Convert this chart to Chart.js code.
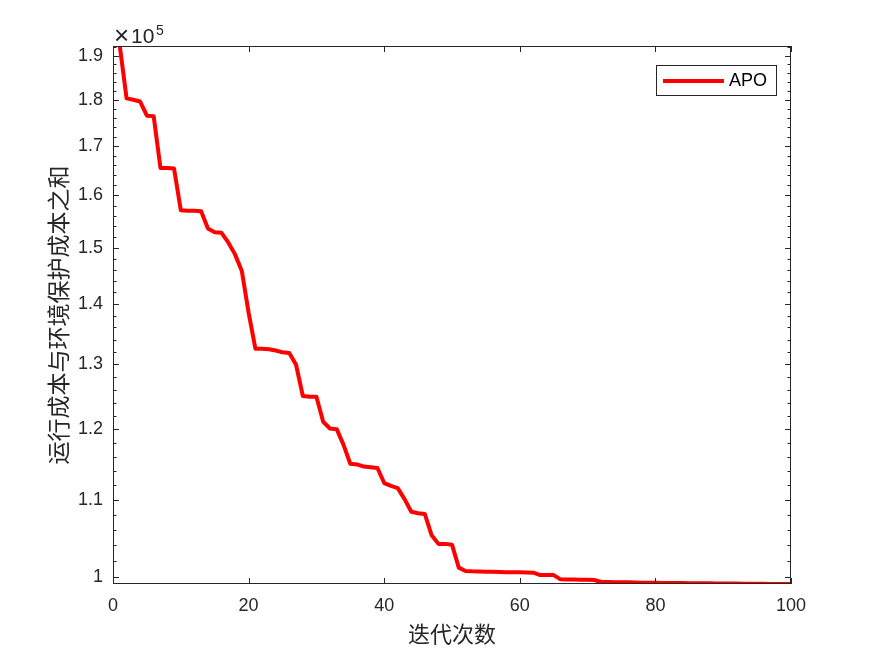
<!DOCTYPE html>
<html>
<head>
<meta charset="utf-8">
<script src="https://cdn.jsdelivr.net/npm/chart.js@4.4.1/dist/chart.umd.min.js"></script>
<style>
  html, body { margin: 0; padding: 0; background: #fff; }
  canvas { display: block; }
</style>
</head>
<body>
<canvas id="costChart" width="875" height="656"></canvas>
<script>
// iteration index 1..100
const iterations = Array.from({ length: 100 }, (_, i) => i + 1);

// APO best cost per iteration
const apoCost = [
  192300, 180300, 180000, 179600, 176500, 176400, 165500, 165500, 165400, 157100,
  157000, 157000, 156900, 153600, 152900, 152800, 151000, 148800, 145800, 138500,
  132500, 132500, 132400, 132200, 131900, 131800, 129900, 125000, 124900, 124900,
  121100, 120100, 120000, 117700, 115000, 114900, 114600, 114500, 114400, 112300,
  111900, 111600, 110100, 108400, 108200, 108100, 105300, 104200, 104200, 104100,
  101200, 100780, 100740, 100720, 100700, 100680, 100660, 100640, 100630, 100620,
  100600, 100570, 100280, 100280, 100270, 99750, 99740, 99720, 99700, 99690,
  99670, 99420, 99410, 99400, 99390, 99380, 99370, 99340, 99330, 99320,
  99310, 99300, 99300, 99290, 99280, 99270, 99260, 99260, 99250, 99240,
  99230, 99230, 99220, 99210, 99200, 99200, 99190, 99190, 99180, 99180
];

const xTicks = [0, 20, 40, 60, 80, 100];
const yTicks = [1.0, 1.1, 1.2, 1.3, 1.4, 1.5, 1.6, 1.7, 1.8, 1.9];
const yScaleFactor = 1e5;
const yMin = 99180;
const yMax = 192300;

const axisColor = "#262626";
const latinFont = '"Liberation Sans", Arial, sans-serif';
const cjkFont = '"Noto Sans CJK SC", sans-serif';

const points = iterations.map((it, i) => ({ x: it, y: apoCost[i] }));

// box, inward ticks, exponent and legend drawn like matlab
const matlabAxes = {
  id: "matlabAxes",
  afterDatasetsDraw(chart) {
    const { ctx, chartArea: a, scales } = chart;
    const x = scales.x;
    const y = scales.y;
    ctx.save();
    ctx.strokeStyle = axisColor;
    ctx.lineWidth = 1;
    ctx.strokeRect(a.left + 0.5, a.top + 0.5, a.right - a.left - 1, a.bottom - a.top - 1);

    ctx.beginPath();
    xTicks.forEach((v) => {
      const px = Math.round(x.getPixelForValue(v)) + 0.5;
      ctx.moveTo(px, a.bottom);
      ctx.lineTo(px, a.bottom - 6);
      ctx.moveTo(px, a.top);
      ctx.lineTo(px, a.top + 6);
    });
    // minor ticks every 0.02e5, major every 0.1e5
    for (let k = 100; k <= 192; k += 2) {
      const v = k * 1000;
      if (v < yMin || v > yMax) continue;
      const len = k % 10 === 0 ? 6 : 3.5;
      const py = Math.round(y.getPixelForValue(v)) + 0.5;
      ctx.moveTo(a.left, py);
      ctx.lineTo(a.left + len, py);
      ctx.moveTo(a.right, py);
      ctx.lineTo(a.right - len, py);
    }
    ctx.stroke();

    // x10^5
    ctx.fillStyle = axisColor;
    ctx.textBaseline = "alphabetic";
    ctx.textAlign = "left";
    ctx.font = "26px " + latinFont;
    ctx.fillText("\u00d7", a.left + 1, a.top - 2);
    ctx.font = "21px " + latinFont;
    ctx.fillText("10", a.left + 18, a.top - 3);
    ctx.font = "14px " + latinFont;
    ctx.fillText("5", a.left + 43, a.top - 11);

    // legend
    const ds = chart.data.datasets[0];
    const lx = a.right - 135;
    const ly = a.top + 19;
    ctx.fillStyle = "#fff";
    ctx.fillRect(lx + 0.5, ly + 0.5, 120, 30);
    ctx.strokeStyle = axisColor;
    ctx.lineWidth = 1;
    ctx.strokeRect(lx + 0.5, ly + 0.5, 120, 30);
    ctx.beginPath();
    ctx.strokeStyle = ds.borderColor;
    ctx.lineWidth = ds.borderWidth;
    ctx.moveTo(lx + 7, ly + 16);
    ctx.lineTo(lx + 68, ly + 16);
    ctx.stroke();
    ctx.fillStyle = "#000";
    ctx.font = "18px " + latinFont;
    ctx.textBaseline = "middle";
    ctx.fillText(ds.label, lx + 73, ly + 16);
    ctx.restore();
  },
};

const costChart = new Chart(document.getElementById("costChart"), {
  type: "line",
  data: {
    datasets: [
      {
        label: "APO",
        data: points,
        borderColor: "#ff0000",
        backgroundColor: "#ff0000",
        borderWidth: 4,
        borderJoinStyle: "round",
        pointRadius: 0,
        tension: 0,
        clip: 0,
      },
    ],
  },
  options: {
    responsive: false,
    animation: false,
    layout: { padding: { left: 0, right: 84, top: 46, bottom: 0 } },
    plugins: {
      legend: { display: false },
      tooltip: { enabled: false },
    },
    scales: {
      x: {
        type: "linear",
        min: 0,
        max: 100,
        afterBuildTicks: (s) => {
          s.ticks = xTicks.map((v) => ({ value: v }));
        },
        afterFit: (s) => {
          s.height = 72;
        },
        grid: { display: false, drawTicks: false },
        border: { display: false },
        ticks: {
          color: axisColor,
          font: { family: latinFont, size: 18 },
          padding: 11,
          maxRotation: 0,
        },
        title: {
          display: true,
          text: "迭代次数",
          color: axisColor,
          font: { family: cjkFont, size: 22 },
          padding: { top: 0, bottom: 9 },
        },
      },
      y: {
        type: "logarithmic",
        min: yMin,
        max: yMax,
        afterBuildTicks: (s) => {
          s.ticks = yTicks.map((v) => ({ value: v * yScaleFactor }));
        },
        afterFit: (s) => {
          s.width = 113;
        },
        grid: { display: false, drawTicks: false },
        border: { display: false },
        ticks: {
          color: axisColor,
          font: { family: latinFont, size: 18 },
          padding: 10,
          callback: (v) => String(Math.round((v / yScaleFactor) * 10) / 10),
        },
        title: {
          display: true,
          text: "运行成本与环境保护成本之和",
          color: axisColor,
          font: { family: cjkFont, size: 23 },
          padding: { top: 44, bottom: 0 },
        },
      },
    },
  },
  plugins: [matlabAxes],
});
</script>
</body>
</html>
